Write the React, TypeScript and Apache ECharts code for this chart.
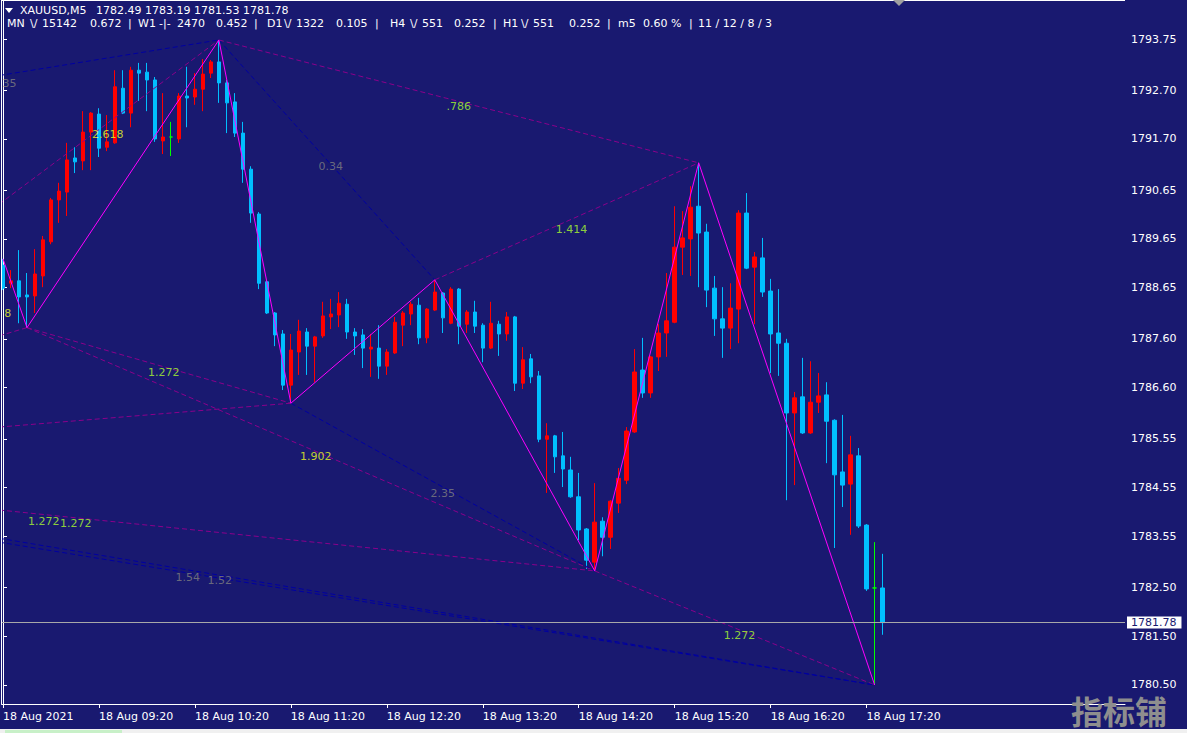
import React, { useEffect, useRef } from "react";
import * as echarts from "echarts";

// ---------- DATA ----------
const symbolName = "XAUUSD,M5";
const headerOHLC = "1782.49 1783.19 1781.53 1781.78";

const timeLabels = [
  "18 Aug 2021", "18 Aug 09:20", "18 Aug 10:20", "18 Aug 11:20", "18 Aug 12:20",
  "18 Aug 13:20", "18 Aug 14:20", "18 Aug 15:20", "18 Aug 16:20", "18 Aug 17:20",
];
const timeTickIndex = [0, 12, 24, 36, 48, 60, 72, 84, 96, 108];

const priceTicks = [
  1793.75, 1792.7, 1791.7, 1790.65, 1789.65, 1788.65, 1787.6, 1786.6,
  1785.55, 1784.55, 1783.55, 1782.5, 1781.5, 1780.5,
];

const opens = [
  1789.11, 1788.74, 1788.79, 1788.50, 1788.48, 1788.89, 1789.59, 1790.45, 1790.61, 1791.31,
  1791.25, 1791.84, 1792.21, 1791.53, 1791.62, 1792.74, 1792.23, 1793.11, 1793.07, 1792.91,
  1791.66, 1791.74, 1791.70, 1792.58, 1792.56, 1792.72, 1793.05, 1793.28, 1792.85, 1792.46,
  1791.82, 1791.08, 1790.16, 1788.77, 1788.13, 1787.70, 1786.65, 1787.33, 1787.74, 1787.45,
  1787.66, 1788.05, 1788.09, 1788.31, 1787.74, 1787.68, 1787.39, 1787.41, 1787.04, 1787.31,
  1787.88, 1788.11, 1788.29, 1787.62, 1788.19, 1788.54, 1787.92, 1788.62, 1787.90, 1788.15,
  1787.88, 1787.41, 1787.90, 1787.70, 1788.05, 1786.69, 1787.19, 1786.84, 1785.54, 1785.61,
  1785.20, 1784.91, 1784.36, 1783.70, 1783.02, 1783.86, 1783.53, 1784.23, 1784.70, 1785.69,
  1786.96, 1786.49, 1787.23, 1787.72, 1787.94, 1789.48, 1789.65, 1790.32, 1789.79, 1788.64,
  1788.01, 1787.82, 1788.21, 1790.18, 1789.07, 1789.26, 1788.58, 1787.72, 1787.51, 1786.08,
  1786.41, 1785.67, 1786.30, 1786.45, 1785.93, 1784.87, 1784.62, 1785.20, 1783.78, 1782.49,
  1782.49,
];
const closes = [
  1788.64, 1788.79, 1788.46, 1788.46, 1788.93, 1789.63, 1790.45, 1790.63, 1791.27, 1791.23,
  1791.84, 1792.23, 1791.51, 1791.64, 1792.77, 1792.23, 1793.11, 1793.05, 1792.91, 1791.70,
  1791.74, 1791.74, 1792.58, 1792.54, 1792.72, 1793.03, 1793.28, 1792.85, 1792.44, 1791.82,
  1791.08, 1790.18, 1788.74, 1788.13, 1787.68, 1786.65, 1787.37, 1787.76, 1787.45, 1787.64,
  1788.07, 1788.11, 1788.33, 1787.74, 1787.66, 1787.41, 1787.43, 1787.04, 1787.33, 1787.94,
  1788.13, 1788.31, 1787.62, 1788.21, 1788.56, 1788.03, 1788.62, 1787.86, 1788.15, 1787.86,
  1787.41, 1787.92, 1787.70, 1788.05, 1786.69, 1787.17, 1786.82, 1785.54, 1785.61, 1785.18,
  1784.93, 1784.36, 1783.68, 1783.06, 1783.84, 1783.53, 1784.27, 1784.74, 1785.71, 1786.92,
  1786.49, 1787.23, 1787.72, 1787.97, 1789.48, 1789.67, 1790.30, 1789.77, 1788.60, 1788.01,
  1787.82, 1788.23, 1790.18, 1789.05, 1789.28, 1788.56, 1787.70, 1787.51, 1786.08, 1786.39,
  1785.67, 1786.30, 1786.43, 1785.91, 1784.81, 1784.60, 1785.22, 1783.76, 1782.47, 1782.49,
  1781.78,
];
const lows = [
  1788.60, 1788.64, 1787.92, 1787.83, 1788.13, 1788.66, 1789.54, 1789.98, 1790.12, 1791.00,
  1791.06, 1791.06, 1791.33, 1791.45, 1791.60, 1792.21, 1791.94, 1792.48, 1792.27, 1791.64,
  1791.39, 1791.35, 1791.62, 1791.94, 1792.40, 1792.27, 1792.95, 1792.44, 1791.82, 1791.74,
  1790.80, 1789.98, 1788.62, 1788.11, 1787.45, 1786.55, 1786.28, 1786.86, 1786.86, 1786.71,
  1787.62, 1787.80, 1787.84, 1787.60, 1787.27, 1787.00, 1786.82, 1786.78, 1786.86, 1787.29,
  1787.45, 1787.88, 1787.49, 1787.51, 1788.17, 1787.72, 1787.90, 1787.49, 1787.72, 1787.72,
  1787.12, 1787.39, 1787.25, 1787.56, 1786.53, 1786.57, 1786.69, 1785.48, 1784.44, 1784.85,
  1784.56, 1784.34, 1783.47, 1782.88, 1782.84, 1783.14, 1783.29, 1784.03, 1784.62, 1785.67,
  1786.39, 1786.39, 1786.94, 1787.23, 1787.92, 1788.91, 1788.89, 1788.66, 1788.25, 1787.66,
  1787.21, 1787.39, 1787.51, 1789.03, 1787.90, 1788.46, 1786.90, 1786.84, 1784.29, 1784.60,
  1785.65, 1785.65, 1786.08, 1785.05, 1783.31, 1784.15, 1783.58, 1783.72, 1782.43, 1780.50,
  1781.53,
];
const highs = [
  1789.24, 1789.01, 1789.42, 1788.95, 1789.44, 1789.71, 1790.49, 1790.80, 1791.62, 1791.53,
  1792.27, 1792.25, 1792.33, 1792.19, 1793.11, 1793.11, 1793.18, 1793.26, 1793.26, 1792.97,
  1792.64, 1792.05, 1792.64, 1793.18, 1793.05, 1793.34, 1793.32, 1793.73, 1792.91, 1792.64,
  1792.05, 1791.14, 1790.20, 1788.79, 1788.15, 1787.78, 1787.70, 1787.99, 1787.82, 1787.66,
  1788.36, 1788.42, 1788.56, 1788.42, 1787.82, 1787.80, 1787.70, 1787.88, 1787.39, 1788.05,
  1788.17, 1788.36, 1788.44, 1788.23, 1788.81, 1788.56, 1788.66, 1788.64, 1788.19, 1788.38,
  1787.92, 1788.36, 1787.97, 1788.15, 1788.07, 1787.43, 1787.29, 1786.94, 1785.87, 1785.63,
  1785.69, 1785.18, 1784.85, 1783.72, 1784.64, 1783.94, 1784.29, 1784.95, 1785.79, 1787.39,
  1787.62, 1787.25, 1787.90, 1788.95, 1790.32, 1790.22, 1790.73, 1791.21, 1789.96, 1788.89,
  1788.66, 1788.74, 1790.24, 1790.59, 1789.38, 1789.67, 1788.83, 1788.62, 1787.60, 1786.51,
  1787.21, 1787.14, 1786.90, 1786.71, 1785.95, 1786.04, 1785.61, 1785.36, 1783.80, 1783.43,
  1783.19,
];

// ZigZag pivots (bar index, price)
const zigzagIndex = [0, 3, 27, 36, 54, 74, 87, 109];
const zigzagPrice = [1789.24, 1787.83, 1793.73, 1786.28, 1788.81, 1782.84, 1791.21, 1780.5];

// Fibonacci connector lines [startIndex, startPrice, endIndex, endPrice]
const purpleLines = [
  [-0.5, 1790.36, 27, 1793.73],
  [27, 1793.73, 87, 1791.21],
  [54, 1788.81, 87, 1791.21],
  [-0.5, 1787.66, 3, 1787.83],
  [3, 1787.83, 36, 1786.28],
  [3, 1787.83, 74, 1782.84],
  [-0.5, 1785.79, 36, 1786.28],
  [-0.5, 1784.09, 74, 1782.84],
  [74, 1782.84, 109, 1780.5],
];
const navyLines = [
  [-0.5, 1793.0, 27, 1793.73],
  [27, 1793.73, 54, 1788.81],
  [36, 1786.28, 74, 1782.84],
  [-0.5, 1783.51, 109, 1780.5],
  [-0.5, 1783.43, 109, 1780.5],
];

// Fibonacci ratio labels
const fibText = ["35", "2.618", "0.34", ".786", "1.414", "8", "1.272", "1.902", "2.35", "1.272", "1.272", "1.54", "1.52", "1.272"];
const fibIndex = [0.8, 13.1, 41, 57, 71.1, 0.6, 20.1, 39.1, 55, 5.1, 9.1, 23.1, 27.1, 92.1];
const fibPrice = [1792.83, 1791.8, 1791.14, 1792.36, 1789.85, 1788.11, 1786.9, 1785.18, 1784.42, 1783.86, 1783.82, 1782.71, 1782.65, 1781.52];
const fibKind = ["gray", "yellow", "gray", "green", "green", "yellow", "green", "yellow", "gray", "green", "green", "gray", "gray", "green"];

// ---------- STYLE ----------
const BG = "#191970";
const UP = "#ff0000";
const DOWN = "#00bfff";
const DOJI = "#00ff00";
const FONT = "DejaVu Sans";
const KIND_COLOR: Record<string, string> = { gray: "#808080", yellow: "#f0ff20", green: "#adff2f" };

export default function App() {
  const ref = useRef<HTMLDivElement>(null);

  useEffect(() => {
    const chart = echarts.init(ref.current!, null, { renderer: "svg" });

    const candleData = opens.map((o, i) => {
      const item: any = { value: [i, o, closes[i], lows[i], highs[i]] };
      if (o === closes[i]) {
        item.itemStyle = { color: DOJI, color0: DOJI, borderColor: DOJI, borderColor0: DOJI };
      }
      return item;
    });
    const lastPrice = closes[closes.length - 1];

    const lineSeries = (arr: number[][], color: string) =>
      arr.map((l) => ({
        type: "line",
        data: [[l[0], l[1]], [l[2], l[3]]],
        symbol: "none",
        silent: true,
        z: 3,
        lineStyle: { color, width: 1, type: [5, 3] },
      }));

    const header2: [string, number][] = [
      ["MN", 7], ["\\/", 30], ["15142", 42], ["0.672", 90], ["|", 128],
      ["W1", 138], ["-|-", 159], ["2470", 177], ["0.452", 216], ["|", 254],
      ["D1", 267], ["\\/", 284], ["1322", 296], ["0.105", 336], ["|", 375],
      ["H4", 390], ["\\/", 410], ["551", 422], ["0.252", 454], ["|", 493],
      ["H1", 503], ["\\/", 521], ["551", 533], ["0.252", 569], ["|", 607],
      ["m5", 618], ["0.60 %", 643], ["|", 689], ["11 / 12 / 8 / 3", 698],
    ];

    const txt = (text: string, x: number, y: number, extra: any = {}) => ({
      type: "text",
      z: 100,
      style: {
        text, x, y, fill: "#ffffff", font: `11px "${FONT}"`,
        align: "left", verticalAlign: "middle", ...extra,
      },
    });

    const option: any = {
      animation: false,
      backgroundColor: BG,
      textStyle: { fontFamily: FONT },
      grid: { left: 1, top: 0, width: 1124, height: 704, containLabel: false },
      xAxis: {
        type: "value",
        min: -0.1875,
        max: 140.3125,
        axisLine: { show: true, lineStyle: { color: "#ffffff", width: 1 } },
        axisTick: { show: true, customValues: timeTickIndex, length: 4, lineStyle: { color: "#ffffff" } },
        axisLabel: {
          customValues: timeTickIndex,
          formatter: (v: number) => {
            const k = timeTickIndex.indexOf(Math.round(v));
            return k >= 0 ? timeLabels[k] : "";
          },
          color: "#ffffff", fontSize: 11, fontFamily: FONT, align: "left", margin: 7,
        },
        splitLine: { show: false },
      },
      yAxis: {
        type: "value",
        position: "right",
        min: 1780.11,
        max: 1794.55,
        axisLine: { show: true, lineStyle: { color: "#ffffff", width: 1 } },
        axisTick: { show: true, customValues: priceTicks, length: 4, lineStyle: { color: "#ffffff" } },
        axisLabel: {
          customValues: priceTicks,
          formatter: (v: number) => v.toFixed(2),
          color: "#ffffff", fontSize: 11, fontFamily: FONT, margin: 6,
        },
        splitLine: { show: false },
      },
      series: [
        {
          type: "candlestick",
          data: candleData,
          barWidth: 4,
          z: 2,
          itemStyle: { color: UP, color0: DOWN, borderColor: UP, borderColor0: DOWN, borderWidth: 1 },
          markLine: {
            silent: true,
            symbol: ["none", "none"],
            data: [{ yAxis: lastPrice }],
            lineStyle: { color: "#a8a8a8", type: "solid", width: 1 },
            label: {
              show: true, position: "end", formatter: lastPrice.toFixed(2),
              color: "#191970", backgroundColor: "#ffffff", padding: [1, 5, 0, 4],
              fontSize: 11, fontFamily: FONT, distance: 2,
            },
          },
        },
        ...lineSeries(purpleLines, "#8b008b"),
        ...lineSeries(navyLines, "#0000a0"),
        {
          type: "line",
          data: zigzagIndex.map((x, i) => [x, zigzagPrice[i]]),
          symbol: "none",
          silent: true,
          z: 4,
          lineStyle: { color: "#ff00ff", width: 1 },
        },
        {
          type: "scatter",
          symbolSize: 1,
          silent: true,
          z: 5,
          itemStyle: { color: "rgba(0,0,0,0)" },
          data: fibText.map((t, i) => ({
            value: [fibIndex[i], fibPrice[i]],
            label: { show: true, formatter: t, color: KIND_COLOR[fibKind[i]] },
          })),
          label: { show: true, position: "inside", fontSize: 11, fontFamily: FONT },
        },
      ],
      graphic: [
        { type: "line", z: 100, shape: { x1: 1.5, y1: 0, x2: 1.5, y2: 704 }, style: { stroke: "#ffffff", lineWidth: 1 } },
        { type: "line", z: 100, shape: { x1: 1, y1: 0.5, x2: 1125, y2: 0.5 }, style: { stroke: "#ffffff", lineWidth: 1 } },
        { type: "polygon", z: 100, shape: { points: [[5, 8], [13, 8], [9, 13]] }, style: { fill: "#ffffff" } },
        { type: "polygon", z: 100, shape: { points: [[893, 0], [905, 0], [899, 6]] }, style: { fill: "#a0a0a0" } },
        txt(symbolName, 20, 10),
        txt(headerOHLC, 96, 10),
        ...header2.map(([t, x]) => txt(t, x, 23)),
        { type: "rect", z: 100, shape: { x: 0, y: 729, width: 1187, height: 4 }, style: { fill: "#f0f0f0" } },
        { type: "rect", z: 101, shape: { x: 5, y: 730, width: 117, height: 3 }, style: { fill: "#c8f0c8" } },
        {
          type: "text", z: 100,
          style: {
            text: "指标铺", x: 1119, y: 710, align: "center", verticalAlign: "middle",
            fill: "#8e8e8e", font: 'bold 32px "Noto Sans CJK SC"',
          },
        },
      ],
    };

    chart.setOption(option);
    return () => chart.dispose();
  }, []);

  return (
    <div
      ref={ref}
      style={{ position: "fixed", left: 0, top: 0, width: 1187, height: 733, background: BG }}
    />
  );
}
